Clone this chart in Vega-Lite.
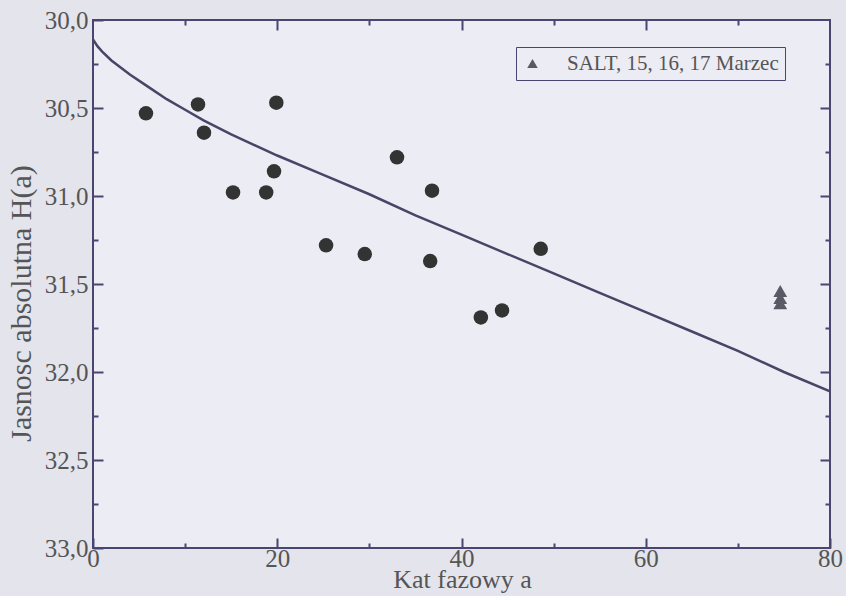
{
  "$schema": "https://vega.github.io/schema/vega-lite/v6.json",
  "width": 737,
  "height": 528,
  "autosize": {"type": "none"},
  "padding": {"left": 93, "top": 20, "right": 16, "bottom": 48},
  "background": "#e4e4ec",
  "config": {
    "view": {"fill": "#ececf4", "stroke": "#4b4470", "strokeWidth": 2},
    "font": "Liberation Serif",
    "axis": {
      "domain": false,
      "grid": false,
      "tickColor": "#4b4470",
      "tickWidth": 2,
      "labelFont": "Liberation Serif",
      "labelFontSize": 25,
      "labelColor": "#555555",
      "titleFont": "Liberation Serif",
      "titleFontSize": 26,
      "titleColor": "#555555",
      "titleFontWeight": "normal"
    },
    "legend": {
      "labelFont": "Liberation Serif",
      "labelFontSize": 21,
      "labelColor": "#555555"
    }
  },
  "datasets": {
    "curve": [
      {"a": 0, "H": 30.11}, {"a": 0.5, "H": 30.15}, {"a": 1, "H": 30.18},
      {"a": 2, "H": 30.23}, {"a": 3, "H": 30.27}, {"a": 4, "H": 30.31},
      {"a": 6, "H": 30.38}, {"a": 8, "H": 30.45}, {"a": 10, "H": 30.51},
      {"a": 12, "H": 30.57}, {"a": 15, "H": 30.65}, {"a": 20, "H": 30.77},
      {"a": 25, "H": 30.88}, {"a": 30, "H": 30.99}, {"a": 35, "H": 31.11},
      {"a": 40, "H": 31.22}, {"a": 45, "H": 31.33}, {"a": 50, "H": 31.44},
      {"a": 55, "H": 31.55}, {"a": 60, "H": 31.66}, {"a": 65, "H": 31.77},
      {"a": 70, "H": 31.88}, {"a": 75, "H": 32.0}, {"a": 80, "H": 32.11}
    ],
    "obs": [
      {"a": 5.75, "H": 30.53}, {"a": 11.4, "H": 30.48}, {"a": 12.05, "H": 30.64},
      {"a": 15.2, "H": 30.98}, {"a": 18.8, "H": 30.98}, {"a": 19.9, "H": 30.47},
      {"a": 19.65, "H": 30.86}, {"a": 25.3, "H": 31.28}, {"a": 29.5, "H": 31.33},
      {"a": 33.0, "H": 30.78}, {"a": 36.8, "H": 30.97}, {"a": 36.6, "H": 31.37},
      {"a": 42.1, "H": 31.69}, {"a": 44.4, "H": 31.65}, {"a": 48.6, "H": 31.3}
    ],
    "salt": [
      {"a": 74.6, "H": 31.54, "s": "SALT, 15, 16, 17 Marzec"},
      {"a": 74.6, "H": 31.58, "s": "SALT, 15, 16, 17 Marzec"},
      {"a": 74.6, "H": 31.61, "s": "SALT, 15, 16, 17 Marzec"}
    ]
  },
  "layer": [
    {
      "data": {"name": "curve"},
      "mark": {"type": "line", "color": "#4a4466", "strokeWidth": 2.5, "clip": true},
      "encoding": {
        "x": {
          "field": "a", "type": "quantitative",
          "scale": {"domain": [0, 80], "nice": false, "zero": false},
          "axis": {
            "orient": "bottom",
            "title": "Kat fazowy a",
            "values": [0, 10, 20, 30, 40, 50, 60, 70, 80],
            "tickSize": {"condition": {"test": "datum.value % 20 === 0", "value": -10}, "value": -5},
            "labelExpr": "datum.value % 20 === 0 ? datum.label : ''",
            "labelPadding": 8,
            "labelFlush": false,
            "titleX": 369,
            "titleY": 39,
            "titleAlign": "center",
            "titleBaseline": "alphabetic"
          }
        },
        "y": {
          "field": "H", "type": "quantitative",
          "scale": {"domain": [30, 33], "reverse": true, "nice": false, "zero": false},
          "axis": {
            "orient": "left",
            "title": "Jasnosc absolutna H(a)",
            "titleFontSize": 30,
            "values": [30, 30.25, 30.5, 30.75, 31, 31.25, 31.5, 31.75, 32, 32.25, 32.5, 32.75, 33],
            "tickSize": {"condition": {"test": "datum.value * 2 % 1 === 0", "value": -10}, "value": -5},
            "labelExpr": "datum.value * 2 % 1 === 0 ? replace(format(datum.value, '.1f'), '.', ',') : ''",
            "labelPadding": 15,
            "labelFlush": false,
            "titleAngle": 270,
            "titleX": -72,
            "titleY": 283,
            "titleAlign": "center",
            "titleBaseline": "middle"
          }
        }
      }
    },
    {
      "data": {"name": "obs"},
      "mark": {"type": "circle", "size": 210, "color": "#333333", "opacity": 1},
      "encoding": {
        "x": {
          "field": "a", "type": "quantitative",
          "axis": {
            "orient": "top", "title": null, "labels": false,
            "values": [10, 20, 30, 40, 50, 60, 70],
            "tickSize": {"condition": {"test": "datum.value % 20 === 0", "value": -10}, "value": -5}
          }
        },
        "y": {
          "field": "H", "type": "quantitative",
          "axis": {
            "orient": "right", "title": null, "labels": false,
            "values": [30.25, 30.5, 30.75, 31, 31.25, 31.5, 31.75, 32, 32.25, 32.5, 32.75],
            "tickSize": {"condition": {"test": "datum.value * 2 % 1 === 0", "value": -10}, "value": -5}
          }
        }
      }
    },
    {
      "data": {"name": "salt"},
      "mark": {"type": "point", "shape": "triangle-up", "filled": true, "size": 190, "opacity": 1},
      "encoding": {
        "x": {"field": "a", "type": "quantitative", "axis": null},
        "y": {"field": "H", "type": "quantitative", "axis": null},
        "color": {
          "field": "s", "type": "nominal",
          "scale": {"range": ["#5a5a66"]},
          "legend": {
            "title": null,
            "orient": "none",
            "legendX": 423,
            "legendY": 27,
            "strokeColor": "#4b4470",
            "fillColor": "#ececf4",
            "padding": 6,
            "symbolType": "triangle-up",
            "symbolSize": 110,
            "labelOffset": 24,
            "labelLimit": 400
          }
        }
      }
    }
  ],
  "resolve": {"axis": {"x": "independent", "y": "independent"}}
}
